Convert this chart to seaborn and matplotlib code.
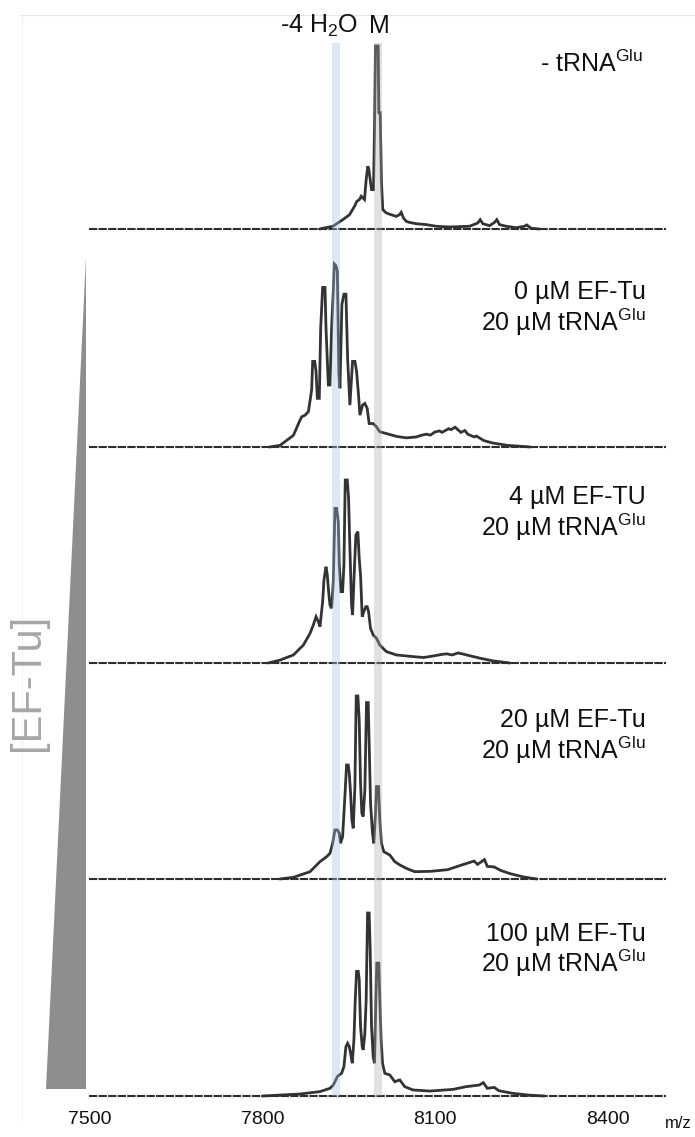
import matplotlib
matplotlib.use("Agg")
import matplotlib.pyplot as plt
import matplotlib.transforms as mtransforms
from matplotlib.patches import Rectangle, Polygon
from matplotlib.lines import Line2D
import pandas as pd
import seaborn as sns

# ---- spectra (m/z, relative intensity in %) ----
mz_no_trna = [7899.1, 7922.3, 7939.7, 7951.3, 7960, 7964, 7968.7, 7971.6, 7974.5, 7977.4,
              7980.3, 7983.2, 7984.9, 7987.3, 7989.6, 7993, 7994.8, 7996.5, 8001.2, 8002.3,
              8004.7, 8006.9, 8009.2, 8015.1, 8023.8, 8032.5, 8038.2, 8041.2, 8045.2, 8049.9,
              8055.6, 8067.3, 8084.7, 8102.1, 8125.2, 8160, 8174.4, 8178.6, 8183.1, 8194.8,
              8203.4, 8207.5, 8212.1, 8223.8, 8241.2, 8255.6, 8259.6, 8267.2, 8281.7]
int_no_trna = [0, 1.5, 5.1, 7.8, 12.4, 15.1, 16.1, 17.9, 17, 16.1,
               27, 34.3, 32.5, 27, 21.5, 21.5, 54.4, 100, 100, 63.5,
               63.5, 25.2, 10.6, 8.8, 7.8, 6.9, 7.8, 9.1, 6, 4.2,
               3.6, 2.9, 2.4, 1.5, 1.1, 1.5, 3.3, 5.1, 2.9, 1.8,
               3.6, 5.1, 2.4, 1.5, 0.7, 1.5, 2.2, 0.4, 0]

mz_eftu0 = [7812, 7830.6, 7853.8, 7865.3, 7868.2, 7874, 7879.8, 7885.5, 7887.3, 7890.8,
            7893.1, 7895.4, 7898.8, 7901.2, 7904.6, 7908.7, 7910.4, 7914.5, 7917.3, 7920.2,
            7923.1, 7924.9, 7927.7, 7930.1, 7932.9, 7934.7, 7938.1, 7941.6, 7945.1, 7948,
            7952, 7956.6, 7960.7, 7963.6, 7967, 7969.4, 7974, 7978, 7982.1, 7985.5,
            7992.5, 7998.3, 8004, 8016, 8033, 8050, 8068, 8076, 8085, 8092,
            8100, 8108, 8112, 8124, 8128, 8135, 8145, 8152, 8157, 8168,
            8172, 8185, 8200, 8226, 8266]
int_eftu0 = [0, 0.9, 6.4, 14.7, 16.5, 17.4, 19.3, 31.2, 46.8, 46.8,
             41.3, 26.6, 26.6, 65.1, 87.2, 87.2, 65.1, 33.9, 33.9, 65.1,
             85.3, 100, 99.1, 96.3, 39.4, 32.1, 78, 83.5, 83.5, 48.6,
             22.9, 46.8, 46.8, 41.3, 28.4, 17.4, 22.9, 23.8, 21.1, 12.8,
             12.8, 11, 8.3, 7.3, 5.8, 5, 5.5, 6.4, 7, 6.5,
             8.2, 8.8, 8, 10, 9.5, 10.8, 8, 9, 7, 5.5,
             6, 3.5, 2.2, 0.9, 0]

mz_eftu4 = [7810, 7830.6, 7853.8, 7871.1, 7882.7, 7888.4, 7893.1, 7897.1, 7900, 7904.6,
            7906.9, 7910.4, 7912.7, 7915, 7917.3, 7920.2, 7923.1, 7926, 7928.9, 7931.8,
            7933.5, 7936.4, 7939.3, 7941.6, 7943.9, 7947.4, 7949.7, 7952, 7954.9, 7956.6,
            7960.1, 7962.4, 7965.9, 7968.2, 7970.5, 7973.4, 7976.3, 7979.8, 7982.1, 7984.4,
            7987.9, 7992.5, 7998.3, 8004, 8015.6, 8032.9, 8061.8, 8080, 8100, 8110,
            8120, 8130, 8140, 8150, 8160, 8180, 8200, 8230]
int_eftu4 = [0, 1.6, 4.4, 9.8, 16.2, 20.8, 25.3, 22.6, 19.9, 33.5,
             45.4, 52.6, 48.1, 39, 31.7, 29.9, 44.4, 84.5, 84.5, 77.2,
             53.6, 39, 39, 53.6, 100, 100, 90, 62.7, 31.7, 26.2,
             53.6, 69.9, 71.8, 57.2, 48.1, 25.3, 28.1, 30.8, 30.8, 28.1,
             18.9, 15.3, 13.5, 9.8, 6.2, 4.4, 3.5, 3, 4, 4.6,
             5, 4.4, 5.5, 4.8, 4, 2.5, 1.2, 0]

mz_eftu20 = [7830, 7853.8, 7882.7, 7900, 7911.6, 7917.3, 7922, 7926, 7930.1, 7933.5,
             7935.8, 7939.3, 7941.6, 7943.9, 7946.2, 7949.1, 7950.9, 7953.2, 7955.5, 7957.8,
             7960.7, 7963, 7965.9, 7968.2, 7970.5, 7972.8, 7975.1, 7978, 7980.9, 7983.8,
             7985.5, 7987.9, 7991.3, 7993.6, 7996.5, 7998.3, 8001.7, 8004, 8006.9, 8011,
             8021.4, 8030, 8038.7, 8050.3, 8064.7, 8093, 8122, 8145, 8157, 8168,
             8174, 8186, 8191, 8203, 8214, 8231, 8254, 8277]
int_eftu20 = [0, 0.9, 4, 9.5, 12.2, 14, 19.5, 26.8, 26.8, 25,
              19.5, 23.1, 35.9, 48.6, 62.3, 62.3, 57.7, 46.8, 32.2, 27.7,
              50.5, 100, 100, 86.9, 52.3, 35.9, 34.1, 48.6, 96.4, 96.4,
              74.1, 41.3, 25, 19.5, 35.9, 50.5, 50.5, 32.2, 19.5, 14.9,
              13.1, 9.5, 7.7, 5.8, 4, 4.2, 5.1, 7.5, 8.7, 9.8,
              8, 10.6, 6.9, 6.6, 4.7, 2.9, 1.1, 0]

mz_eftu100 = [7800, 7830.6, 7865.3, 7900, 7917.3, 7923.1, 7926, 7930.1, 7933.5, 7937.6,
              7941.6, 7945.1, 7948, 7950.9, 7953.2, 7956.1, 7959, 7961.3, 7963.6, 7966.5,
              7968.2, 7970.5, 7973.4, 7975.1, 7978, 7980.3, 7982.7, 7985.5, 7987.3, 7989.6,
              7992.5, 7994.8, 7997.1, 7998.8, 8002.3, 8004, 8006.3, 8008.7, 8012.7, 8021.4,
              8030, 8038.7, 8047.4, 8061.8, 8091, 8131, 8154, 8177, 8184, 8191,
              8203, 8211, 8234, 8263, 8290]
int_eftu100 = [0, 0.5, 1.1, 2.4, 4.2, 6, 7.8, 10.6, 11.5, 12.4,
               16.1, 27, 28.8, 27, 23.4, 17.9, 30.7, 52.6, 68.1, 68.1,
               63.5, 38, 27, 25.2, 34.3, 52.6, 100, 100, 79.9, 38,
               21.5, 17.9, 52.6, 72.6, 72.6, 52.6, 30.7, 17.9, 12.4, 11.5,
               7.8, 8.8, 5.1, 3.3, 2.7, 3.6, 5.1, 6, 7.3, 4.2,
               4.7, 2.9, 1.5, 0.5, 0]

spectra = [(mz_no_trna, int_no_trna), (mz_eftu0, int_eftu0), (mz_eftu4, int_eftu4),
           (mz_eftu20, int_eftu20), (mz_eftu100, int_eftu100)]

trna = "tRNA$^{\\mathrm{Glu}}$"
panel_labels = [
    ["- " + trna],
    ["0 \u00b5M EF-Tu", "20 \u00b5M " + trna],
    ["4 \u00b5M EF-TU", "20 \u00b5M " + trna],
    ["20 \u00b5M EF-Tu", "20 \u00b5M " + trna],
    ["100 \u00b5M EF-Tu", "20 \u00b5M " + trna],
]

tick_values = list(range(7500, 8401, 100))
tick_labels = ["7500", "", "", "7800", "", "", "8100", "", "", "8400"]

water_loss_band = (7920, 7934)   # -4 H2O
mass_band = (7994, 8008)         # M

# ---- style ----
sns.set_theme(style="white")
plt.rcParams["font.family"] = ["Liberation Sans", "DejaVu Sans"]
plt.rcParams["mathtext.fontset"] = "custom"
plt.rcParams["mathtext.rm"] = "Liberation Sans"
plt.rcParams["mathtext.it"] = "Liberation Sans:italic"
plt.rcParams["mathtext.bf"] = "Liberation Sans:bold"

W, H = 695, 1137
fig = plt.figure(figsize=(W / 100, H / 100), dpi=100)
fig.patch.set_facecolor("white")


def fx(x):
    return x / W


def fy(y):
    return 1 - y / H


baselines = [229, 447, 663, 879, 1096]
label_baselines = [[72], [299, 331], [504, 536], [727, 759], [941, 972]]
panel_h = 210
peak_h = 183
x_left, x_right = 90, 665
line_color = "#333333"
text_color = "#111111"

axes = []
for i, ((mz, inten), base) in enumerate(zip(spectra, baselines)):
    ax = fig.add_axes([fx(x_left), fy(base), fx(x_right) - fx(x_left), panel_h / H])
    ax.set_facecolor("none")
    df = pd.DataFrame({"mz": mz, "intensity": inten})
    sns.lineplot(data=df, x="mz", y="intensity", ax=ax, color=line_color,
                 linewidth=2.0, estimator=None, sort=False)
    for ln in ax.lines:
        ln.set_clip_on(False)
        ln.set_solid_joinstyle("miter")
    ax.set_xlim(7500, 8500)
    ax.set_ylim(0, 100 * panel_h / peak_h)
    ax.set_xlabel("")
    ax.set_ylabel("")
    ax.set_yticks([])
    for side in ("left", "top", "right"):
        ax.spines[side].set_visible(False)
    ax.spines["bottom"].set_color("#2e2e2e")
    ax.spines["bottom"].set_linewidth(1.5)
    ax.spines["bottom"].set_linestyle((0, (3.0, 1.6)))
    ax.set_xticks(tick_values)
    ax.tick_params(axis="x", direction="out", length=3, width=1.3,
                   color="#2e2e2e", pad=8, labelsize=14, labelcolor=text_color)
    if i == len(spectra) - 1:
        ax.set_xticklabels(tick_labels)
    else:
        ax.set_xticklabels([])
    axes.append(ax)

# highlight bands across all panels
blend = mtransforms.blended_transform_factory(axes[-1].transData, fig.transFigure)
for (lo, hi), col in ((water_loss_band, "#9dbdeb"), (mass_band, "#a9a9a9")):
    rect = Rectangle((lo, fy(1096)), hi - lo, fy(43) - fy(1096), transform=blend,
                     facecolor=col, edgecolor="none", alpha=0.35, zorder=10)
    fig.add_artist(rect)

# band captions
fig.text(fx(358), fy(33), "-4 H$_2$O", ha="right", va="baseline", fontsize=18, color=text_color)
fig.text(fx(379), fy(33), "M", ha="center", va="baseline", fontsize=18, color=text_color)

# condition labels
fig.text(fx(540), fy(label_baselines[0][0]), panel_labels[0][0], ha="left", va="baseline",
         fontsize=18, color=text_color)
for ys, lines in zip(label_baselines[1:], panel_labels[1:]):
    for y, s in zip(ys, lines):
        fig.text(fx(646), fy(y), s, ha="right", va="baseline", fontsize=18, color=text_color)

# axis unit
fig.text(fx(692), fy(1123), "m/z", ha="right", va="center", fontsize=12, color=text_color)

# concentration wedge
wedge = Polygon([(fx(86), fy(257)), (fx(86), fy(1089)), (fx(46), fy(1089))],
                closed=True, facecolor="#8e8e8e", edgecolor="none", transform=fig.transFigure)
fig.add_artist(wedge)
fig.text(fx(28), fy(682), "[EF-Tu]", rotation=90, ha="center", va="center",
         fontsize=30, color="#a6a6a6")

# faint page rules
fig.add_artist(Line2D([fx(20), fx(695)], [fy(15), fy(15)], color="#e4e4e4", lw=0.8,
                      transform=fig.transFigure))
fig.add_artist(Line2D([fx(22), fx(22)], [fy(15), fy(1120)], color="#f2f2f2", lw=0.8,
                      transform=fig.transFigure))

fig.savefig("out.png", dpi=100, facecolor="white")
